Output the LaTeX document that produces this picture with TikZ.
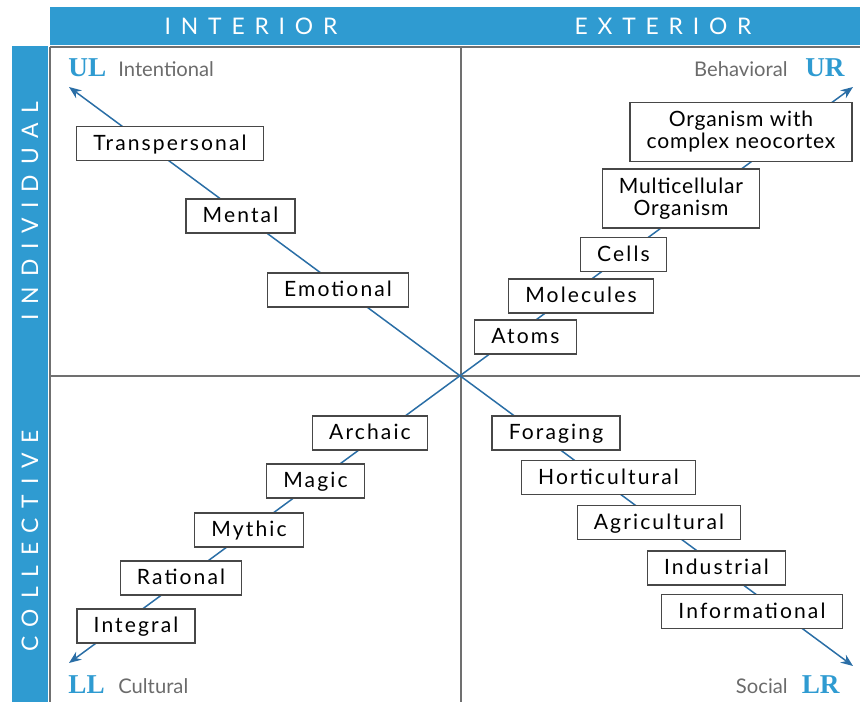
\documentclass[tikz,border=0pt]{standalone}
\usepackage{fontspec}
\setmainfont{Lato}
\newfontfamily\headfont[LetterSpace=43]{Lato}
\newfontfamily\levelfont[LetterSpace=10]{Lato}
\newfontfamily\pairfont[LetterSpace=4]{Lato}
\newfontfamily\quadfont{Liberation Serif}
\usetikzlibrary{arrows.meta}

\definecolor{barblue}{HTML}{2F9BD1}
\definecolor{arrowblue}{HTML}{2A6EA6}
\definecolor{framegray}{HTML}{707070}
\definecolor{textgray}{HTML}{6B6B6B}

\tikzset{
    frame/.style={draw=framegray, line width=1.4pt},
    axis/.style={draw=arrowblue, line width=0.85pt, {Stealth[length=7pt,width=5.5pt]}-{Stealth[length=7pt,width=5.5pt]}},
    box/.style={draw=black!72, line width=0.75pt, fill=white, inner xsep=9.5pt, inner ysep=0pt},
    stage/.style={box, minimum height=19.3pt, text height=9.5pt, text depth=2pt, font=\fontsize{12}{12.5}\selectfont\levelfont},
    stagetwo/.style={box, minimum height=33.5pt, align=center, font=\fontsize{12}{12.5}\selectfont\pairfont},
    header/.style={text=white, inner sep=0pt, font=\fontsize{13}{13}\selectfont\headfont},
    quad/.style={text=barblue, inner sep=0pt, font=\fontsize{15.5}{15.5}\selectfont\quadfont\bfseries},
    realm/.style={text=textgray, inner sep=0pt, font=\fontsize{11.5}{11.5}\selectfont}
}

\begin{document}
\begin{tikzpicture}[x=0.02cm, y=-0.02cm]
    \useasboundingbox (0,0) rectangle (860,702);

    % Blue header bars
    \fill[barblue] (50,7) rectangle (860,45);
    \fill[barblue] (12,46) rectangle (48,702);
    \node[header] (interior) at (251,26) {INTERIOR};
    \node[header] (exterior) at (663,26) {EXTERIOR};
    \node[header, rotate=90] (individual) at (30,211) {INDIVIDUAL};
    \node[header, rotate=90] (collective) at (30,541) {COLLECTIVE};

    % Quadrant frame
    \draw[frame] (50,47) -- (860,47);
    \draw[frame] (50,47) -- (50,702);
    \draw[frame] (461,47) -- (461,702);
    \draw[frame] (50,376) -- (860,376);

    % Diagonals
    \coordinate (ultip) at (69,87);
    \coordinate (lrtip) at (853,666);
    \coordinate (urtip) at (853,87);
    \coordinate (lltip) at (69,663);
    \draw[axis] (ultip) -- (lrtip);
    \draw[axis] (lltip) -- (urtip);

    % Quadrant names
    \node[quad, anchor=base west] (ul) at (68,77) {UL};
    \node[realm, anchor=base west] (intentional) at (118,77) {Intentional};
    \node[quad, anchor=base east] (ur) at (845,77) {UR};
    \node[realm, anchor=base east] (behavioral) at (788,77) {Behavioral};
    \node[quad, anchor=base west] (ll) at (68,694) {LL};
    \node[realm, anchor=base west] (cultural) at (118,694) {Cultural};
    \node[quad, anchor=base east] (lr) at (840,694) {LR};
    \node[realm, anchor=base east] (social) at (788,694) {Social};

    % Upper left
    \node[stage] (transpersonal) at (170,143.5) {Transpersonal};
    \node[stage] (mental) at (240.5,216) {Mental};
    \node[stage] (emotional) at (338,290) {Emotional};

    % Upper right
    \node[stagetwo] (neocortex) at (741,132) {Organism with\\complex neocortex};
    \node[stagetwo] (multicellular) at (681,198.5) {Multicellular\\Organism};
    \node[stage] (cells) at (623.5,254.5) {Cells};
    \node[stage] (molecules) at (581,296) {Molecules};
    \node[stage] (atoms) at (525.5,337) {Atoms};

    % Lower left
    \node[stage] (archaic) at (370,433) {Archaic};
    \node[stage] (magic) at (315.5,481) {Magic};
    \node[stage] (mythic) at (249,530) {Mythic};
    \node[stage] (rational) at (181,578) {Rational};
    \node[stage] (integral) at (136,626) {Integral};

    % Lower right
    \node[stage] (foraging) at (556,433) {Foraging};
    \node[stage] (horticultural) at (608.5,477.5) {Horticultural};
    \node[stage] (agricultural) at (659,522.5) {Agricultural};
    \node[stage] (industrial) at (716.5,568) {Industrial};
    \node[stage] (informational) at (752,611.5) {Informational};
\end{tikzpicture}
\end{document}
